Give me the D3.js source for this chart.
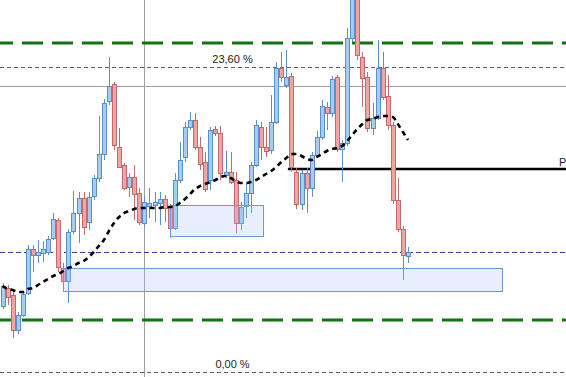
<!DOCTYPE html>
<html>
<head>
<meta charset="utf-8">
<script src="https://cdn.jsdelivr.net/npm/d3@7/dist/d3.min.js"></script>
<style>
body{margin:0;background:#fff;}
svg{display:block;}
.lbl{font-family:"Liberation Sans",Arial,sans-serif;font-size:11px;fill:#222;}
</style>
</head>
<body>
<script>
var w = 566, h = 377;

// bougies (prix)
var open = [1.1066,1.1084,1.1077,1.1042,1.1057,1.1079,1.1123,1.1117,1.1119,1.1120,
	1.1134,1.1152,1.1104,1.1091,1.1141,1.1159,1.1174,1.1150,1.1176,1.1194,
	1.1218,1.1271,1.1288,1.1225,1.1207,1.1185,1.1195,1.1179,1.1149,1.1166,
	1.1167,1.1169,1.1173,1.1166,1.1144,1.1192,1.1215,1.1245,1.1252,1.1225,
	1.1210,1.1192,1.1243,1.1239,1.1197,1.1200,1.1192,1.1149,1.1166,1.1179,
	1.1207,1.1245,1.1225,1.1222,1.1250,1.1304,1.1287,1.1296,1.1200,1.1168,
	1.1199,1.1184,1.1217,1.1235,1.1265,1.1259,1.1295,1.1223,1.1229,1.1334,
	1.1380,1.1315,1.1295,1.1244,1.1254,1.1304,1.1276,1.1247,1.1172,1.1143,
	1.1116];
var high = [1.1089,1.1087,1.1080,1.1060,1.1080,1.1127,1.1127,1.1132,1.1131,1.1136,
	1.1159,1.1154,1.1109,1.1143,1.1181,1.1180,1.1180,1.1180,1.1197,1.1256,
	1.1273,1.1315,1.1290,1.1244,1.1209,1.1199,1.1207,1.1184,1.1176,1.1184,
	1.1180,1.1180,1.1177,1.1168,1.1199,1.1230,1.1250,1.1260,1.1259,1.1235,
	1.1220,1.1245,1.1246,1.1246,1.1221,1.1220,1.1200,1.1170,1.1189,1.1210,
	1.1252,1.1250,1.1245,1.1277,1.1310,1.1320,1.1322,1.1299,1.1204,1.1202,
	1.1204,1.1220,1.1241,1.1272,1.1270,1.1296,1.1297,1.1232,1.1344,1.1395,
	1.1390,1.1320,1.1300,1.1269,1.1332,1.1320,1.1297,1.1250,1.1194,1.1146,
	1.1125];
var low = [1.1063,1.1067,1.1034,1.1038,1.1055,1.1077,1.1100,1.1109,1.1110,1.1117,
	1.1132,1.1100,1.1089,1.1069,1.1138,1.1129,1.1137,1.1142,1.1172,1.1190,
	1.1212,1.1267,1.1222,1.1204,1.1182,1.1175,1.1152,1.1147,1.1145,1.1154,
	1.1150,1.1147,1.1150,1.1134,1.1142,1.1189,1.1210,1.1242,1.1222,1.1202,
	1.1180,1.1182,1.1236,1.1192,1.1194,1.1188,1.1139,1.1142,1.1154,1.1159,
	1.1205,1.1212,1.1215,1.1218,1.1248,1.1290,1.1284,1.1200,1.1163,1.1162,
	1.1159,1.1175,1.1214,1.1232,1.1242,1.1255,1.1220,1.1190,1.1226,1.1330,
	1.1312,1.1265,1.1240,1.1237,1.1252,1.1272,1.1242,1.1168,1.1140,1.1092,
	1.1109];
var close = [1.1086,1.1075,1.1042,1.1057,1.1078,1.1123,1.1117,1.1120,1.1123,1.1133,
	1.1153,1.1105,1.1091,1.1140,1.1159,1.1174,1.1145,1.1175,1.1194,1.1218,
	1.1269,1.1286,1.1227,1.1205,1.1184,1.1195,1.1178,1.1150,1.1170,1.1169,
	1.1170,1.1173,1.1164,1.1144,1.1192,1.1212,1.1245,1.1252,1.1225,1.1208,
	1.1183,1.1242,1.1239,1.1199,1.1200,1.1190,1.1149,1.1165,1.1179,1.1207,
	1.1247,1.1225,1.1221,1.1250,1.1304,1.1295,1.1295,1.1205,1.1168,1.1199,
	1.1184,1.1217,1.1235,1.1266,1.1259,1.1293,1.1223,1.1229,1.1334,1.1384,
	1.1317,1.1294,1.1244,1.1254,1.1304,1.1275,1.1247,1.1172,1.1143,1.1117,
	1.1120];

// moyenne mobile
var ma = [1.1086,1.1083,1.1082,1.1080,1.1080,1.1083,1.1084,1.1087,1.1090,1.1093,
	1.1096,1.1098,1.1101,1.1104,1.1106,1.1109,1.1111,1.1115,1.1120,1.1126,
	1.1132,1.1141,1.1149,1.1155,1.1159,1.1161,1.1163,1.1164,1.1164,1.1164,
	1.1164,1.1164,1.1165,1.1165,1.1166,1.1169,1.1173,1.1178,1.1183,1.1186,
	1.1188,1.1190,1.1192,1.1195,1.1196,1.1194,1.1191,1.1189,1.1189,1.1190,
	1.1192,1.1195,1.1198,1.1201,1.1205,1.1210,1.1214,1.1218,1.1218,1.1216,
	1.1213,1.1212,1.1215,1.1218,1.1221,1.1223,1.1224,1.1226,1.1231,1.1237,
	1.1243,1.1248,1.1252,1.1253,1.1255,1.1256,1.1256,1.1255,1.1248,1.1240,
	1.1232];

// niveaux
var greenLevels = [1.1329, 1.1052];
var fibLevels = [1.1305, 1.1000];
var fibLabels = ["23,60 %", "0,00 %"];
var greyLevel = 1.1286;
var blueLevel = 1.1120;
var pivotLevel = 1.1203, pivotStart = 56.3, pivotLabel = "P";
var vLineIndex = 28;

// zones (index debut, index fin, haut, bas)
var zoneStart = [33, 11.9];
var zoneEnd = [51.4, 98.5];
var zoneHigh = [1.1167, 1.1104];
var zoneLow = [1.1136, 1.1081];

var candles = open.map(function(o, i) {
	return {i: i, o: o, h: high[i], l: low[i], c: close[i]};
});

var x = d3.scaleLinear().domain([0, 80]).range([2.5, 408]);
var y = d3.scaleLinear().domain([1.0995, 1.1372]).range([h, 0]);

var svg = d3.select("body").append("svg")
	.attr("width", w)
	.attr("height", h);

function crisp(v) { return Math.round(v) + 0.5; }

// ligne verticale
svg.append("line")
	.attr("x1", crisp(x(vLineIndex))).attr("x2", crisp(x(vLineIndex)))
	.attr("y1", 0).attr("y2", h)
	.style("stroke", "#a0a0a0").style("stroke-width", 1);

svg.append("line")
	.attr("x1", 0).attr("x2", w)
	.attr("y1", crisp(y(greyLevel))).attr("y2", crisp(y(greyLevel)))
	.style("stroke", "#a0a0a0").style("stroke-width", 1);

// fibo
svg.append("g").selectAll("line")
	.data(fibLevels)
	.enter()
	.append("line")
	.attr("x1", 0).attr("x2", w)
	.attr("y1", function(d) { return crisp(y(d)); })
	.attr("y2", function(d) { return crisp(y(d)); })
	.style("stroke", "#606060")
	.style("stroke-width", 1)
	.style("stroke-dasharray", "4,3");

svg.append("g").selectAll("text")
	.data(fibLevels)
	.enter()
	.append("text")
	.attr("class", "lbl")
	.attr("x", 232.5)
	.attr("y", function(d) { return Math.round(y(d)) - 4; })
	.attr("text-anchor", "middle")
	.text(function(d, i) { return fibLabels[i]; });

svg.append("g").selectAll("line")
	.data(greenLevels)
	.enter()
	.append("line")
	.attr("x1", 0).attr("x2", w)
	.attr("y1", function(d) { return Math.round(y(d)); })
	.attr("y2", function(d) { return Math.round(y(d)); })
	.style("stroke", "#107410")
	.style("stroke-width", 3)
	.style("stroke-dasharray", "21,9")
	.style("stroke-dashoffset", 8);

svg.append("line")
	.attr("x1", 0).attr("x2", w)
	.attr("y1", crisp(y(blueLevel))).attr("y2", crisp(y(blueLevel)))
	.style("stroke", "#3c3c96").style("stroke-width", 1)
	.style("stroke-dasharray", "5,3");

svg.append("line")
	.attr("x1", x(pivotStart)).attr("x2", w)
	.attr("y1", y(pivotLevel)).attr("y2", y(pivotLevel))
	.style("stroke", "#000").style("stroke-width", 2.6);

svg.append("text")
	.attr("class", "lbl")
	.attr("x", 559)
	.attr("y", Math.round(y(pivotLevel)) - 3)
	.text(pivotLabel);

// bougies
var cg = svg.append("g").attr("shape-rendering", "crispEdges");

cg.selectAll("line")
	.data(candles)
	.enter()
	.append("line")
	.attr("x1", function(d) { return Math.round(x(d.i)) + 0.5; })
	.attr("x2", function(d) { return Math.round(x(d.i)) + 0.5; })
	.attr("y1", function(d) { return y(d.h); })
	.attr("y2", function(d) { return y(d.l); })
	.style("stroke", function(d) { return d.c >= d.o ? "#5b8fc9" : "#c46a6a"; })
	.style("stroke-width", 1);

cg.selectAll("rect")
	.data(candles)
	.enter()
	.append("rect")
	.attr("x", function(d) { return Math.round(x(d.i)) - 1.5; })
	.attr("width", 4)
	.attr("y", function(d) { return y(Math.max(d.o, d.c)); })
	.attr("height", function(d) { return Math.max(1, y(Math.min(d.o, d.c)) - y(Math.max(d.o, d.c))); })
	.style("fill", function(d) { return d.c >= d.o ? "#a3cdf4" : "#f4a3a3"; })
	.style("stroke", function(d) { return d.c >= d.o ? "#5b8fc9" : "#c46a6a"; })
	.style("stroke-width", 1);

// zones
svg.append("g").selectAll("rect")
	.data(zoneStart)
	.enter()
	.append("rect")
	.attr("x", function(d) { return crisp(x(d)); })
	.attr("y", function(d, i) { return crisp(y(zoneHigh[i])); })
	.attr("width", function(d, i) { return Math.round(x(zoneEnd[i]) - x(d)); })
	.attr("height", function(d, i) { return Math.round(y(zoneLow[i]) - y(zoneHigh[i])); })
	.style("fill", "rgb(160,190,255)")
	.style("fill-opacity", 0.25)
	.style("stroke", "#7095d8")
	.style("stroke-width", 1);

// moyenne mobile
var line = d3.line()
	.x(function(d, i) { return x(i); })
	.y(function(d) { return y(d); })
	.curve(d3.curveMonotoneX);

svg.append("path")
	.datum(ma)
	.attr("d", line)
	.style("fill", "none")
	.style("stroke", "#000")
	.style("stroke-width", 2.6)
	.style("stroke-dasharray", "5,4");
</script>
</body>
</html>
